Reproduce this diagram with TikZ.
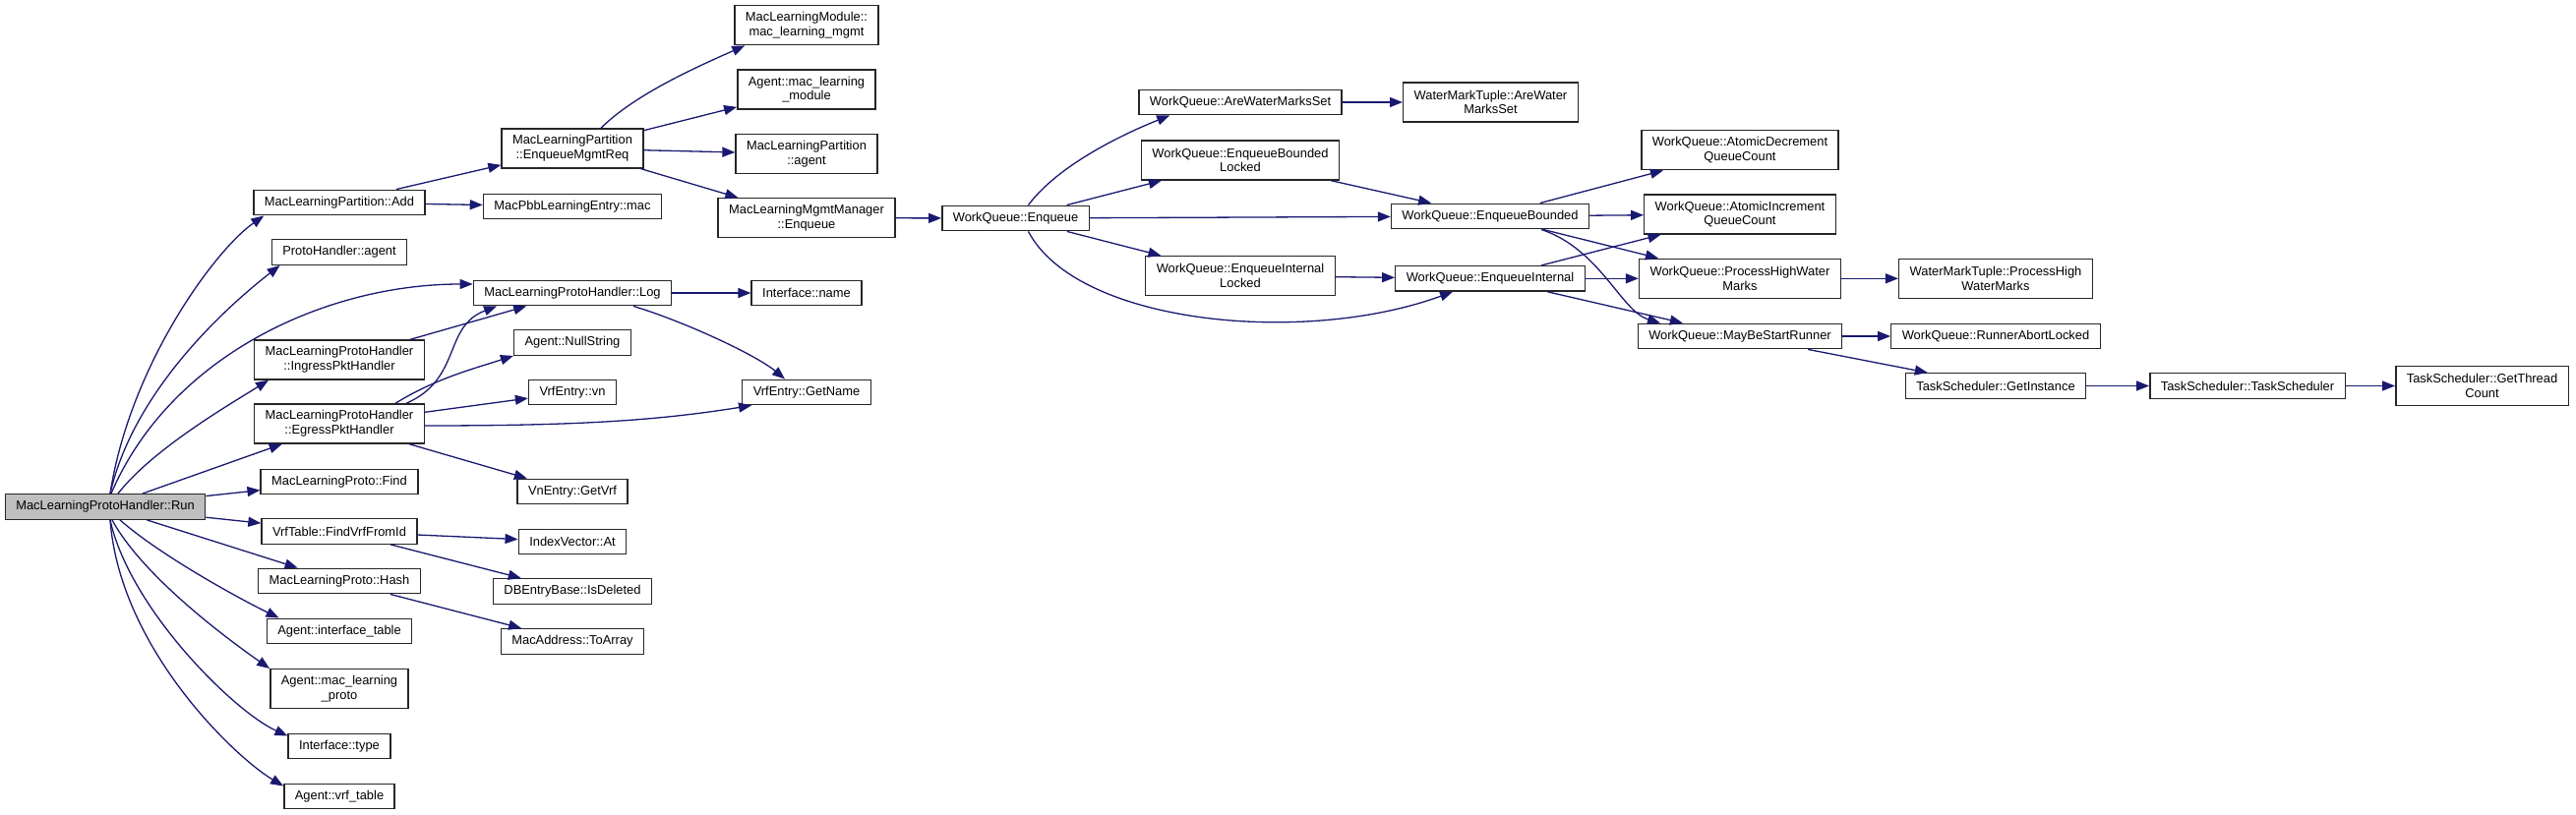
\documentclass[tikz,border=0pt]{standalone}
\usepackage{fontspec}
\setmainfont{Liberation Sans}
\usetikzlibrary{arrows.meta}
\definecolor{midblue}{HTML}{191970}
\begin{document}
\begin{tikzpicture}[x=1pt,y=-1pt,
		fn/.style={draw=black!85, line width=1.4pt, fill=white, align=center, inner xsep=11pt, inner ysep=6pt, minimum height=25.5pt, font=\fontsize{12.9}{14.7}\selectfont},
		two/.style={minimum height=40pt},
		root/.style={fill=black!25},
		call/.style={draw=midblue, line width=1.3pt, -{Triangle[length=13pt,width=10pt]}}]
		\useasboundingbox (0,0) rectangle (2619,829);
		
		\node[fn,root] (run) at (107,515.5) {MacLearningProtoHandler::Run};
		
		\node[fn] (add) at (345,206) {MacLearningPartition::Add};
		\node[fn] (phagent) at (345,256.5) {ProtoHandler::agent};
		\node[fn,two] (ingress) at (345,366) {MacLearningProtoHandler\\::IngressPktHandler};
		\node[fn,two] (egress) at (345,431) {MacLearningProtoHandler\\::EgressPktHandler};
		\node[fn] (find) at (345,490) {MacLearningProto::Find};
		\node[fn] (findvrf) at (345,540.5) {VrfTable::FindVrfFromId};
		\node[fn] (hash) at (345,591) {MacLearningProto::Hash};
		\node[fn] (intftable) at (345,642) {Agent::interface\_table};
		\node[fn,two] (maclproto) at (345,700.7) {Agent::mac\_learning\\\_proto};
		\node[fn] (intftype) at (345,759) {Interface::type};
		\node[fn] (vrftable) at (345,810) {Agent::vrf\_table};
		
		\node[fn,two] (mgmtreq) at (582,151) {MacLearningPartition\\::EnqueueMgmtReq};
		\node[fn] (pbbmac) at (582,210) {MacPbbLearningEntry::mac};
		\node[fn] (log) at (582,298) {MacLearningProtoHandler::Log};
		\node[fn] (nullstr) at (582,348.5) {Agent::NullString};
		\node[fn] (vrfvn) at (582,399) {VrfEntry::vn};
		\node[fn] (getvrf) at (582,500) {VnEntry::GetVrf};
		\node[fn] (idxat) at (582,551) {IndexVector::At};
		\node[fn] (isdel) at (582,601.5) {DBEntryBase::IsDeleted};
		\node[fn] (toarray) at (582,652.5) {MacAddress::ToArray};
		
		\node[fn,two] (lmgmt) at (820,25.7) {MacLearningModule::\\mac\_learning\_mgmt};
		\node[fn,two] (lmodule) at (820,91) {Agent::mac\_learning\\\_module};
		\node[fn,two] (partagent) at (820,156.7) {MacLearningPartition\\::agent};
		\node[fn,two] (mgrenq) at (820,221.7) {MacLearningMgmtManager\\::Enqueue};
		\node[fn] (intfname) at (820,298) {Interface::name};
		\node[fn] (getname) at (820,399) {VrfEntry::GetName};
		
		\node[fn] (wqenq) at (1032.5,222) {WorkQueue::Enqueue};
		
		\node[fn] (wmset) at (1261,104) {WorkQueue::AreWaterMarksSet};
		\node[fn,two] (bndlocked) at (1261,163) {WorkQueue::EnqueueBounded\\Locked};
		\node[fn,two] (intlocked) at (1261,280.7) {WorkQueue::EnqueueInternal\\Locked};
		
		\node[fn,two] (tuplewm) at (1515.5,104) {WaterMarkTuple::AreWater\\MarksSet};
		\node[fn] (bounded) at (1515,220) {WorkQueue::EnqueueBounded};
		\node[fn] (internal) at (1515,283.3) {WorkQueue::EnqueueInternal};
		
		\node[fn,two] (atdec) at (1769,152.7) {WorkQueue::AtomicDecrement\\QueueCount};
		\node[fn,two] (atinc) at (1769,218) {WorkQueue::AtomicIncrement\\QueueCount};
		\node[fn,two] (highwm) at (1769,283.3) {WorkQueue::ProcessHighWater\\Marks};
		\node[fn] (startrun) at (1769,342) {WorkQueue::MayBeStartRunner};
		
		\node[fn,two] (tuplehigh) at (2029,283.3) {WaterMarkTuple::ProcessHigh\\WaterMarks};
		\node[fn] (abortlck) at (2029,342) {WorkQueue::RunnerAbortLocked};
		\node[fn] (getinst) at (2029,392.5) {TaskScheduler::GetInstance};
		\node[fn] (tsched) at (2285,392.5) {TaskScheduler::TaskScheduler};
		\node[fn,two] (threadcnt) at (2523.5,392.5) {TaskScheduler::GetThread\\Count};
		
		\draw[call] ([xshift=5pt]run.north) .. controls +(20,-130) and +(-50,35) .. ([xshift=11pt]add.south west);
		\draw[call] ([xshift=5pt]run.north) .. controls +(25,-110) and +(-45,35) .. ([xshift=9pt]phagent.south west);
		\draw[call] ([xshift=6pt]run.north) .. controls +(60,-140) and +(-150,0) .. ([yshift=9pt]log.west);
		\draw[call] ([xshift=13pt]run.north) .. controls +(35,-45) and +(-40,25) .. ([xshift=15pt]ingress.south west);
		\draw[call] (run) -- (egress);
		\draw[call] (run) -- (find);
		\draw[call] (run) -- (findvrf);
		\draw[call] (run) -- (hash);
		\draw[call] ([xshift=15pt]run.south) .. controls +(40,35) and +(-45,-22) .. ([xshift=13pt]intftable.north west);
		\draw[call] ([xshift=7pt]run.south) .. controls +(30,55) and +(-50,-35) .. (maclproto.north west);
		\draw[call] ([xshift=5pt]run.south) .. controls +(20,90) and +(-55,-25) .. ([yshift=-3pt]intftype.north west);
		\draw[call] ([xshift=5pt]run.south) .. controls +(10,130) and +(-50,-30) .. ([yshift=-3pt]vrftable.north west);
		
		\draw[call] (add) -- (mgmtreq);
		\draw[call] (add) -- (pbbmac);
		\draw[call] ([xshift=29pt]mgmtreq.north) .. controls +(35,-35) and +(-45,20) .. ([xshift=11pt]lmgmt.south west);
		\draw[call] (mgmtreq) -- (lmodule);
		\draw[call] (mgmtreq) -- (partagent);
		\draw[call] (mgmtreq) -- (mgrenq);
		\draw[call] (mgrenq) -- (wqenq);
		
		\draw[call] (log) -- (intfname);
		\draw[call] ([xshift=62pt]log.south) .. controls +(50,15) and +(-30,-25) .. ([xshift=-22pt]getname.north);
		\draw[call] (ingress) -- (log);
		\draw[call] ([xshift=68pt]egress.north) .. controls +(57,-25) and +(-55,21) .. ([xshift=-77pt]log.south);
		\draw[call] ([xshift=57pt]egress.north) .. controls +(40,-25) and +(-40,13) .. (nullstr.south west);
		\draw[call] (egress) -- (vrfvn);
		\draw[call] ([yshift=-2pt]egress.east) .. controls +(150,0) and +(-100,16) .. ([xshift=10pt]getname.south west);
		\draw[call] (egress) -- (getvrf);
		\draw[call] (findvrf) -- (idxat);
		\draw[call] (findvrf) -- (isdel);
		\draw[call] (hash) -- (toarray);
		
		\draw[call] ([xshift=13pt]wqenq.north) .. controls +(30,-40) and +(-50,20) .. ([xshift=32pt]wmset.south west);
		\draw[call] (wqenq) -- (bndlocked);
		\draw[call] (wqenq) -- (bounded);
		\draw[call] (wqenq) -- (intlocked);
		\draw[call] ([xshift=13pt]wqenq.south) .. controls +(50,95) and +(-150,55) .. ([xshift=-38pt]internal.south);
		\draw[call] (wmset) -- (tuplewm);
		\draw[call] (bndlocked) -- (bounded);
		\draw[call] (intlocked) -- (internal);
		
		\draw[call] (bounded) -- (atdec);
		\draw[call] (bounded) -- (atinc);
		\draw[call] (bounded) -- (highwm);
		\draw[call] ([xshift=52pt]bounded.south) .. controls +(60,20) and +(-40,-12) .. ([xshift=-81pt]startrun.north);
		\draw[call] (internal) -- (atinc);
		\draw[call] (internal) -- (highwm);
		\draw[call] (internal) -- (startrun);
		
		\draw[call] (highwm) -- (tuplehigh);
		\draw[call] (startrun) -- (abortlck);
		\draw[call] (startrun) -- (getinst);
		\draw[call] (getinst) -- (tsched);
		\draw[call] (tsched) -- (threadcnt);
	\end{tikzpicture}
\end{document}
